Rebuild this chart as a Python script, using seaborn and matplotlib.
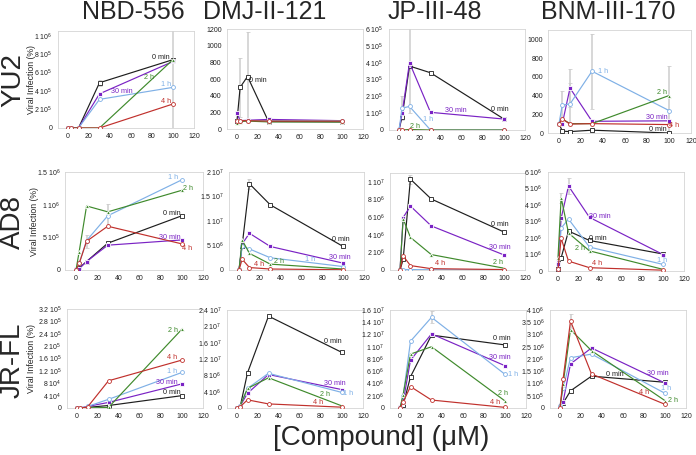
import numpy as np
import pandas as pd
import matplotlib
matplotlib.use("Agg")
import matplotlib.pyplot as plt
import matplotlib.colors as mcolors
import seaborn as sns
from matplotlib.ticker import FuncFormatter, MultipleLocator

# ==========================================
# DATA
# ==========================================

conc = [0, 3, 10, 30, 100]
times = ["0 min", "30 min", "1 h", "2 h", "4 h"]
strains = ["YU2", "AD8", "JR-FL"]
compounds = ["NBD-556", "DMJ-II-121", "JP-III-48", "BNM-III-170"]

# one row per time point (0 min, 30 min, 1 h, 2 h, 4 h), values at each conc
yu2_nbd556 = [[0, 0, 0, 4.9e5, 7.4e5],
              [0, 0, 0, 3.7e5, 7.2e5],
              [0, 0, 0, 3.1e5, 4.4e5],
              [0, 0, 0, 0, 7.4e5],
              [0, 0, 0, 0, 2.6e5]]
yu2_dmj = [[100, 500, 630, 90, 85],
           [190, 100, 105, 115, 100],
           [100, 95, 100, 100, 100],
           [70, 90, 95, 85, 85],
           [100, 100, 100, 95, 95]]
yu2_jp = [[0, 0.8e5, 3.8e5, 3.4e5, 0.65e5],
          [0, 1.0e5, 4.0e5, 1.05e5, 0.65e5],
          [0, 1.3e5, 1.4e5, 0, 0],
          [0, 0, 0.03e5, 0, 0],
          [0, 0, 0, 0, 0]]
yu2_bnm = [[100, 20, 15, 30, 0],
           [100, 100, 480, 125, 130],
           [100, 300, 310, 660, 240],
           [100, 150, 100, 100, 400],
           [100, 150, 95, 100, 90]]

ad8_nbd556 = [[0, 0.03e6, 0.13e6, 0.41e6, 0.83e6],
              [0.02e6, 0.02e6, 0.13e6, 0.38e6, 0.46e6],
              [0, 0.1e6, 0.45e6, 0.83e6, 1.38e6],
              [0, 0.28e6, 0.98e6, 0.89e6, 1.22e6],
              [0, 0.1e6, 0.44e6, 0.67e6, 0.4e6]]
ad8_dmj = [[0, 5e6, 1.76e7, 1.33e7, 0.48e7],
           [0, 5.3e6, 7.5e6, 4.8e6, 1.4e6],
           [0, 4.8e6, 4.3e6, 2.5e6, 0.7e6],
           [0, 6.1e6, 3.4e6, 1.2e6, 0.2e6],
           [0, 2.2e6, 0.5e6, 0.2e6, 0.05e6]]
ad8_jp = [[0, 1.2e6, 1.03e7, 8.05e6, 4.3e6],
          [0, 5.95e6, 7.25e6, 5.0e6, 1.7e6],
          [0, 0.05e6, 0.05e6, 0.03e6, 0.02e6],
          [0, 5.8e6, 3.7e6, 1.75e6, 0.2e6],
          [0, 1.6e6, 0.5e6, 0.15e6, 0.05e6]]
ad8_bnm = [[0.1e6, 0.8e6, 2.42e6, 1.85e6, 1.03e6],
           [0.45e6, 3.2e6, 5.15e6, 3.25e6, 1.0e6],
           [0.1e6, 2.6e6, 3.15e6, 1.45e6, 0.4e6],
           [0.8e6, 4.45e6, 2.3e6, 1.22e6, 0.1e6],
           [0.1e6, 1.98e6, 0.6e6, 0.2e6, 0.05e6]]

jrfl_nbd556 = [[0, 0, 0.02e5, 0.08e5, 0.4e5],
               [0, 0, 0.05e5, 0.18e5, 0.78e5],
               [0, 0, 0.05e5, 0.28e5, 1.15e5],
               [0, 0, 0, 0.02e5, 2.55e5],
               [0, 0, 0.03e5, 0.88e5, 1.55e5]]
jrfl_dmj = [[0, 0.3e6, 8.6e6, 2.25e7, 1.36e7],
            [0, 0.5e6, 3.6e6, 8.2e6, 4.5e6],
            [0, 0.5e6, 4.8e6, 8.5e6, 3.8e6],
            [0, 0.5e6, 4.8e6, 7.4e6, 0.5e6],
            [0, 0.3e6, 2.0e6, 1.0e6, 0.2e6]]
jrfl_jp = [[0, 0.5e6, 5.1e6, 1.19e7, 1.03e7],
           [0.2e6, 1.0e6, 7.8e6, 1.21e7, 6.9e6],
           [0, 2.0e6, 1.09e7, 1.48e7, 5.5e6],
           [0, 2.2e6, 8.8e6, 1.0e7, 1.15e6],
           [0, 1.0e6, 3.5e6, 1.3e6, 0.1e6]]
jrfl_bnm = [[0, 0.2e6, 0.7e6, 1.3e6, 1.05e6],
            [0.1e6, 0.26e6, 1.8e6, 2.45e6, 1.02e6],
            [0.1e6, 0.8e6, 2.05e6, 2.2e6, 0.6e6],
            [0, 1.0e6, 3.2e6, 2.34e6, 0.3e6],
            [0, 1.2e6, 3.55e6, 1.39e6, 0.15e6]]

# error bars: (time index, conc, sd)
yu2_nbd556_err = [(0, 100, 7.5e5), (0, 30, 0.3e5)]
yu2_dmj_err = [(0, 3, 350), (0, 10, 530)]
yu2_jp_err = [(1, 10, 3.0e5), (2, 3, 0.7e5), (0, 30, 0.1e5)]
yu2_bnm_err = [(2, 30, 400), (2, 10, 220), (2, 3, 150), (2, 100, 480), (1, 10, 200)]
ad8_nbd556_err = [(2, 30, 0.18e6), (4, 10, 0.1e6)]
ad8_dmj_err = [(0, 10, 1.0e6)]
ad8_jp_err = [(0, 10, 0.5e6)]
ad8_bnm_err = [(1, 10, 0.5e6), (3, 3, 0.3e6)]
jrfl_nbd556_err = []
jrfl_dmj_err = []
jrfl_jp_err = [(2, 30, 0.1e7)]
jrfl_bnm_err = [(4, 10, 0.3e6)]

panel_data = [[yu2_nbd556, yu2_dmj, yu2_jp, yu2_bnm],
              [ad8_nbd556, ad8_dmj, ad8_jp, ad8_bnm],
              [jrfl_nbd556, jrfl_dmj, jrfl_jp, jrfl_bnm]]
panel_err = [[yu2_nbd556_err, yu2_dmj_err, yu2_jp_err, yu2_bnm_err],
             [ad8_nbd556_err, ad8_dmj_err, ad8_jp_err, ad8_bnm_err],
             [jrfl_nbd556_err, jrfl_dmj_err, jrfl_jp_err, jrfl_bnm_err]]

# ==========================================
# LAYOUT / STYLE
# ==========================================

colors = {"0 min": "#1e1e1e", "30 min": "#7a22c4", "1 h": "#7fb0e6",
          "2 h": "#3f8a2c", "4 h": "#c0302c"}
markers = {"0 min": "s", "30 min": "s", "1 h": "o", "2 h": "^", "4 h": "o"}
open_marker = {"0 min", "1 h", "4 h"}

W, H = 696, 455
# panel boxes in pixels (left, top, right, bottom)
boxes = [[(57.5, 31, 194, 128), (226.5, 29, 363, 129), (388.5, 29, 525, 130), (548, 30, 691, 133)],
         [(65.4, 172, 203, 270), (228.6, 172, 364, 270), (389.6, 173, 525, 270), (547.5, 172, 684, 271)],
         [(66.5, 309, 203, 408), (226.5, 310, 363, 408), (389.5, 310, 526, 408), (549.5, 310, 686, 408)]]
ytops = [[1.05e6, 1200, 6e5, 1100], [1.5e6, 2e7, 1.1e7, 6e6], [3.2e5, 2.4e7, 1.6e7, 4e6]]
ysteps = [[2e5, 200, 1e5, 200], [5e5, 5e6, 2e6, 1e6], [4e4, 4e6, 2e6, 5e5]]
ylabel_x = [-0.16, -0.19, -0.22]

# series label placement (time index, x, y) in data coords
label_pos = {
    (0, 0): [(0, 88, 7.6e5), (3, 77, 5.5e5), (1, 51, 4.0e5), (2, 93, 4.7e5), (4, 93, 2.9e5)],
    (0, 1): [(0, 20, 580)],
    (0, 2): [(0, 96, 1.2e5), (1, 54, 1.15e5), (2, 28, 0.6e5), (3, 15, 0.2e5)],
    (0, 3): [(2, 40, 660), (3, 94, 430), (1, 89, 170), (4, 105, 85), (0, 90, 40)],
    (1, 0): [(2, 92, 1.42e6), (3, 106, 1.24e6), (0, 91, 0.87e6), (1, 89, 0.5e6), (4, 105, 0.33e6)],
    (1, 1): [(0, 98, 6.3e6), (1, 97, 2.6e6), (2, 68, 2.1e6), (3, 38, 1.7e6), (4, 19, 1.1e6)],
    (1, 2): [(0, 96, 5.2e6), (1, 96, 2.6e6), (3, 94, 0.8e6), (4, 38, 0.7e6)],
    (1, 3): [(1, 40, 3.3e6), (0, 38, 2.0e6), (3, 21, 1.35e6), (4, 37, 0.45e6), (2, 99, 0.65e6)],
    (2, 0): [(3, 91, 2.5e5), (4, 91, 1.62e5), (2, 91, 1.17e5), (1, 86, 0.82e5), (0, 90, 0.5e5)],
    (2, 1): [(0, 91, 1.63e7), (1, 93, 5.9e6), (2, 106, 3.6e6), (3, 84, 3.2e6), (4, 77, 1.4e6)],
    (2, 2): [(0, 97, 1.13e7), (1, 95, 8.3e6), (2, 108, 5.5e6), (3, 98, 2.4e6), (4, 91, 0.9e6)],
    (2, 3): [(1, 93, 1.42e6), (0, 52, 1.37e6), (2, 101, 0.8e6), (3, 108, 0.3e6), (4, 80, 0.64e6)],
}


def sci_fmt(v, pos):
    if v < -1e-9:
        return ""
    if abs(v) < 1e-9:
        return "0"
    if v < 1e4:
        return f"{v:g}"
    e = int(np.floor(np.log10(v) + 1e-9))
    m = round(v / 10 ** e, 3)
    return f"{m:g} 10$^{{{e}}}$"


sns.set_style("white")
plt.rcParams["font.family"] = ["Liberation Sans", "DejaVu Sans"]
plt.rcParams["mathtext.fontset"] = "custom"
plt.rcParams["mathtext.rm"] = "Liberation Sans"
plt.rcParams["mathtext.it"] = "Liberation Sans"

fig = plt.figure(figsize=(W / 100, H / 100), dpi=100)
hex_to_time = {mcolors.to_hex(c): t for t, c in colors.items()}

# ==========================================
# PANELS
# ==========================================

for i in range(3):
    for j in range(4):
        vals = panel_data[i][j]
        df = pd.DataFrame({
            "conc": conc * len(times),
            "value": [v for row in vals for v in row],
            "time": np.repeat(times, len(conc)),
        })
        l, t, r, b = boxes[i][j]
        ax = fig.add_axes([l / W, 1 - b / H, (r - l) / W, (b - t) / H])

        for k, c, sd in panel_err[i][j]:
            y = vals[k][conc.index(c)]
            ax.errorbar(c, y, yerr=sd, color="#cdcdcd", lw=1.1,
                        capsize=1.5, capthick=0.6, zorder=1)

        sns.lineplot(data=df, x="conc", y="value", hue="time", style="time",
                     hue_order=times, style_order=times, palette=colors,
                     markers=markers, dashes=False, linewidth=0.85,
                     markersize=2.8, markeredgewidth=0.6,
                     legend=False, ax=ax, zorder=3)

        for line in ax.lines:
            tname = hex_to_time.get(mcolors.to_hex(line.get_color()))
            if tname in open_marker:
                line.set_markerfacecolor("white")
                line.set_markeredgecolor(colors[tname])

        for k, x, y in label_pos[(i, j)]:
            ax.text(x, y, times[k], color=colors[times[k]], fontsize=5.2,
                    ha="center", va="center", zorder=4)

        ax.set_xlim(-10, 120)
        ax.set_ylim(0, ytops[i][j])
        ax.xaxis.set_major_locator(MultipleLocator(20))
        ax.yaxis.set_major_locator(MultipleLocator(ysteps[i][j]))
        ax.yaxis.set_major_formatter(FuncFormatter(sci_fmt))
        ax.tick_params(labelsize=5, length=2, width=0.5, color="#9a9a9a",
                       pad=1.5, labelcolor="#222222")
        for sp in ax.spines.values():
            sp.set_color("#d4d4d4")
            sp.set_linewidth(0.6)
        ax.set_xlabel("")
        if j == 0:
            ax.set_ylabel("Viral Infection (%)", fontsize=6.3)
            ax.yaxis.set_label_coords(ylabel_x[i], 0.5)
        else:
            ax.set_ylabel("")

# ==========================================
# TITLES
# ==========================================

title_x = [133, 265, 435, 608]
for name, x in zip(compounds, title_x):
    fig.text(x / W, 1 - 12 / H, name, fontsize=18, ha="center", va="center")

row_y = [80, 222, 360]
for name, y in zip(strains, row_y):
    fig.text(13 / W, 1 - y / H, name, fontsize=20, rotation=90,
             ha="center", va="center")

fig.text(381 / W, 1 - 438 / H, "[Compound] (\u03bcM)", fontsize=20,
         ha="center", va="center")

fig.savefig("out.png", dpi=100)
